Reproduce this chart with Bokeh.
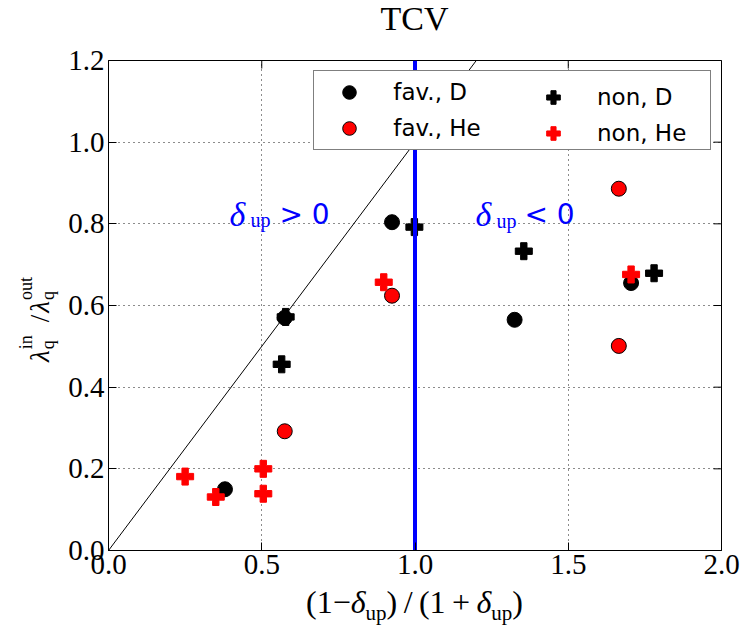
from bokeh.plotting import figure
from bokeh.models import Legend, LegendItem, Label, FixedTicker, Div
from bokeh.layouts import row, column
from bokeh.embed import file_html
from bokeh.resources import INLINE

# ---- data ----
fav_D_x = [0.38, 0.575, 0.925, 1.325, 1.705]
fav_D_y = [0.150, 0.570, 0.804, 0.565, 0.655]
fav_He_x = [0.575, 0.925, 1.665, 1.665]
fav_He_y = [0.292, 0.624, 0.886, 0.501]
non_D_x = [0.565, 0.578, 0.998, 1.355, 1.780]
non_D_y = [0.456, 0.572, 0.792, 0.733, 0.679]
non_He_x = [0.25, 0.35, 0.505, 0.505, 0.898, 1.705]
non_He_y = [0.181, 0.131, 0.200, 0.139, 0.657, 0.676]

diag_x = [0.0, 1.2]
diag_y = [0.0, 1.2]
sep_x = [1.0, 1.0]
sep_y = [0.0, 1.2]

x_ticks = [0.0, 0.5, 1.0, 1.5, 2.0]
x_tick_labels = ["0.0", "0.5", "1.0", "1.5", "2.0"]
y_ticks = [0.0, 0.2, 0.4, 0.6, 0.8, 1.0, 1.2]
y_tick_labels = ["0.0", "0.2", "0.4", "0.6", "0.8", "1.0", "1.2"]

SERIF = "Liberation Serif"
SANS = "DejaVu Sans"

YDIV_W = 60
BORDER_L = 48
TDIV_H = 40
BORDER_T = 20
FL = YDIV_W + BORDER_L        # page x of frame left (108)
FT = TDIV_H + BORDER_T        # page y of frame top (60)
FH = 490
FB = FT + FH                  # page y of frame bottom (550)
FW = 613
BORDER_R = 21
BORDER_B = 38
XDIV_H = 40

p = figure(frame_width=FW, frame_height=FH,
           min_border_left=BORDER_L, min_border_right=BORDER_R,
           min_border_top=BORDER_T, min_border_bottom=BORDER_B,
           x_range=(0, 2), y_range=(0, 1.2),
           output_backend="svg", toolbar_location=None,
           background_fill_color="white", border_fill_color="white")

p.outline_line_color = "black"
p.outline_line_width = 1

def style_axis(ax, ticks, labels):
    ax.ticker = FixedTicker(ticks=ticks)
    ax.major_label_overrides = {t: l for t, l in zip(ticks, labels)}
    ax.major_tick_in = 8
    ax.major_tick_out = 0
    ax.major_tick_line_color = "black"
    ax.minor_tick_line_color = None
    ax.axis_line_color = "black"
    ax.major_label_text_font = SERIF
    ax.major_label_text_color = "black"
    ax.major_label_text_font_size = "29px"
    ax.major_label_standoff = 4

style_axis(p.xaxis[0], x_ticks, x_tick_labels)
style_axis(p.yaxis[0], y_ticks, y_tick_labels)

for g in (p.xgrid[0], p.ygrid[0]):
    g.grid_line_color = "black"
    g.grid_line_dash = "1 4"
    g.grid_line_width = 1
    g.grid_line_alpha = 0.9
p.xgrid[0].ticker = FixedTicker(ticks=x_ticks)
p.ygrid[0].ticker = FixedTicker(ticks=y_ticks)

# inside ticks on the top and right edges (half of each dash is clipped by the frame)
p.scatter(x_ticks, [y_ticks[-1]] * len(x_ticks), marker="dash", angle=1.5707963267948966,
          size=16, line_color="black", line_width=1)
p.scatter([x_ticks[-1]] * len(y_ticks), y_ticks, marker="dash",
          size=16, line_color="black", line_width=1)

# ---- marks ----
p.line(diag_x, diag_y, line_color="black", line_width=1)
r_fD = p.scatter(fav_D_x, fav_D_y, marker="circle", size=15,
                 fill_color="black", line_color="black", line_width=1)
r_fHe = p.scatter(fav_He_x, fav_He_y, marker="circle", size=15,
                  fill_color="red", line_color="black", line_width=1)
r_nD = p.scatter(non_D_x, non_D_y, marker="plus", size=17,
                 fill_color="black", line_color="black", line_width=1)
r_nHe = p.scatter(non_He_x, non_He_y, marker="plus", size=17,
                  fill_color="red", line_color="red", line_width=1)
p.line(sep_x, sep_y, line_color="blue", line_width=4)

# ---- in-plot text pieces (positions in page pixels) ----
def piece(text, px, py, size, font=SERIF, style="normal", color="black"):
    p.add_layout(Label(x=px - FL, y=FB - py, x_units="screen", y_units="screen",
                       text=text, text_font=font, text_font_size=f"{size}px",
                       text_font_style=style, text_color=color,
                       text_align="left", text_baseline="alphabetic"))

piece("δ", 229, 213.5, 34, style="italic", color="blue")
piece("up", 250, 219.5, 20, color="blue")
piece("> 0", 279, 213.5, 28, font=SANS, color="blue")
piece("δ", 475, 214, 34, style="italic", color="blue")
piece("up", 496, 220, 20, color="blue")
piece("< 0", 524, 214, 28, font=SANS, color="blue")

# ---- legend (two columns inside one framed box) ----
common = dict(glyph_width=62, glyph_height=34, label_height=34, label_standoff=13,
              spacing=2, padding=4, label_text_font=SANS, label_text_font_size="23px",
              label_text_color="black")
leg_a = Legend(items=[LegendItem(label="fav., D", renderers=[r_fD]),
                      LegendItem(label="fav., He", renderers=[r_fHe])],
               location=(313.3 - FL, FB - 150), label_width=313,
               border_line_color="black", border_line_width=1,
               background_fill_color="white", background_fill_alpha=1.0, **common)
leg_b = Legend(items=[LegendItem(label="non, D", renderers=[r_nD]),
                      LegendItem(label="non, He", renderers=[r_nHe])],
               location=(557 - 31 - 4 - FL, FB - 150),
               border_line_color=None, background_fill_alpha=0.0, **common)
p.add_layout(leg_a)
p.add_layout(leg_b)

# ---- title and axis labels as HTML text ----
FIG_W = BORDER_L + FW + BORDER_R
FIG_H = BORDER_T + FH + BORDER_B
frame_cx = BORDER_L + FW / 2
TOTAL_H = TDIV_H + FIG_H + XDIV_H

title_html = (
    f'<div style="position:relative;width:{FIG_W}px;height:{TDIV_H}px;">'
    f'<span style="position:absolute;left:{frame_cx}px;top:0px;transform:translateX(-50%);'
    f'white-space:nowrap;font-family:\'{SERIF}\';font-size:34px;line-height:38px;color:black;">'
    'TCV</span></div>'
)

sub = '<span style="font-size:21px;position:relative;top:7px;">up</span>'
x_label_html = (
    f'<div style="position:relative;width:{FIG_W}px;height:{XDIV_H}px;">'
    f'<span style="position:absolute;left:{frame_cx}px;top:0px;transform:translateX(-50%);'
    f'white-space:nowrap;font-family:\'{SERIF}\';font-size:32px;line-height:28px;color:black;">'
    '(1\u2212<i>\u03b4</i>' + sub + ')\u2009/\u2009(1\u2009+\u2009<i>\u03b4</i>' + sub + ')'
    '</span></div>'
)

def stack(sup_t, sub_t, w):
    return (f'<span style="display:inline-block;position:relative;width:{w}px;height:0px;">'
            f'<span style="position:absolute;left:1px;top:-32px;font-size:18px;line-height:18px;'
            f'font-style:normal;">{sup_t}</span>'
            f'<span style="position:absolute;left:1px;top:-10px;font-size:18px;line-height:18px;'
            f'font-style:normal;">{sub_t}</span></span>')

y_label_html = (
    f'<div style="position:relative;width:{YDIV_W}px;height:{TOTAL_H}px;">'
    f'<div style="position:absolute;left:27.4px;top:362px;transform-origin:0 0;'
    f'transform:rotate(-90deg);white-space:nowrap;font-family:\'{SERIF}\';'
    'font-size:27px;line-height:27px;color:black;">'
    '<i>\u03bb</i>' + stack("in", "q", 16) +
    '<span style="margin-left:12px;">/</span>'
    '<i style="margin-left:2px;">\u03bb</i>' + stack("out", "q", 25) +
    '</div></div>'
)

tdiv = Div(text=title_html, width=FIG_W, height=TDIV_H, margin=0)
xdiv = Div(text=x_label_html, width=FIG_W, height=XDIV_H, margin=0)
ydiv = Div(text=y_label_html, width=YDIV_W, height=TOTAL_H, margin=0)

layout = row(ydiv, column(tdiv, p, xdiv, spacing=0), spacing=0)

open("out.html", "w").write(file_html(layout, INLINE))
